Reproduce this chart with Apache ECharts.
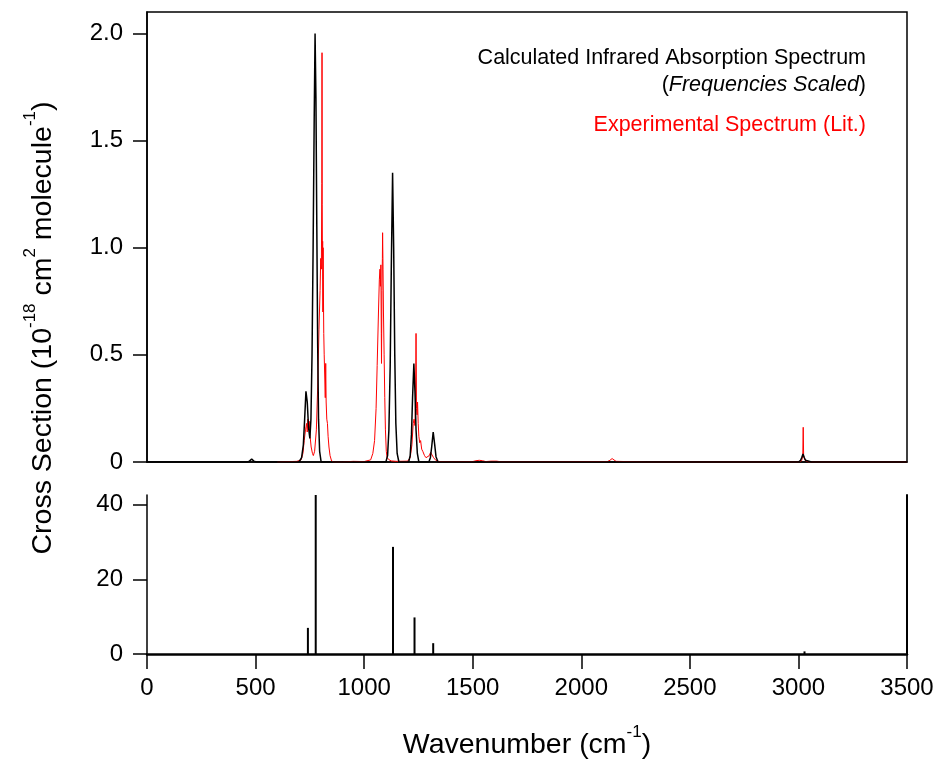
<!DOCTYPE html>
<html>
<head>
<meta charset="utf-8">
<script src="https://cdn.jsdelivr.net/npm/echarts@6/dist/echarts.min.js"></script>
<style>
  html, body { margin: 0; padding: 0; background: #fff; }
  #chart { width: 943px; height: 761px; }
</style>
</head>
<body>
<div id="chart"></div>
<script>
// calculated spectrum (broadened), [wavenumber, cross section]
const calcSpectrum = [
  [0, 0], [460, 0], [472, 0.004], [482, 0.014], [492, 0.004], [505, 0],
  [700, 0], [712, 0.02], [720, 0.08], [726, 0.2], [732, 0.33], [738, 0.28],
  [744, 0.16], [750, 0.11], [755, 0.2], [760, 0.5], [765, 1.0], [770, 1.6],
  [774, 2.0], [778, 1.7], [782, 1.1], [786, 0.55], [790, 0.2], [795, 0.05],
  [802, 0], [1100, 0], [1108, 0.03], [1114, 0.15], [1120, 0.45], [1125, 0.9],
  [1131, 1.35], [1136, 1.0], [1141, 0.5], [1146, 0.18], [1152, 0.04], [1160, 0],
  [1205, 0], [1212, 0.03], [1218, 0.13], [1223, 0.3], [1229, 0.46], [1234, 0.33],
  [1239, 0.15], [1245, 0.04], [1252, 0], [1298, 0], [1305, 0.02], [1311, 0.07],
  [1318, 0.14], [1325, 0.08], [1331, 0.025], [1340, 0], [3000, 0], [3010, 0.008],
  [3015, 0.02], [3021, 0.037], [3027, 0.02], [3033, 0.008], [3042, 0], [3060, 0],
  [3200, 0], [3350, 0], [3500, 0]
];

// experimental spectrum (literature)
const expSpectrum = [
  [600, 0], [690, 0.003], [710, 0.01], [718, 0.04], [724, 0.1], [730, 0.15],
  [735, 0.18], [738, 0.14], [741, 0.2], [744, 0.16], [747, 0.19], [751, 0.12],
  [756, 0.07], [762, 0.04], [766, 0.03], [772, 0.05], [780, 0.15], [786, 0.35],
  [792, 0.62], [797, 0.8], [800, 0.95], [803, 0.9], [805, 1.3], [806, 1.91],
  [807, 1.2], [808, 0.95], [809, 1.03], [810, 0.7], [811, 1.0], [812, 0.85],
  [814, 0.6], [816, 0.5], [818, 0.42], [821, 0.3], [823, 0.46], [825, 0.28],
  [828, 0.2], [831, 0.18], [834, 0.12], [838, 0.07], [843, 0.03], [850, 0.005],
  [860, 0], [900, 0], [950, 0.003], [1000, 0.002], [1030, 0.01], [1040, 0.04],
  [1048, 0.1], [1055, 0.25], [1060, 0.45], [1066, 0.7], [1070, 0.85], [1073, 0.9],
  [1075, 0.82], [1077, 0.92], [1079, 0.6], [1080, 0.46], [1082, 0.8], [1084, 0.95],
  [1085, 1.07], [1087, 0.9], [1089, 0.7], [1092, 0.5], [1095, 0.3], [1098, 0.15],
  [1102, 0.05], [1106, 0.02], [1115, 0.01], [1125, 0.005], [1150, 0.003], [1200, 0.004],
  [1212, 0.02], [1220, 0.08], [1226, 0.18], [1230, 0.2], [1234, 0.17], [1237, 0.3],
  [1239, 0.6], [1241, 0.25], [1244, 0.22], [1246, 0.28], [1249, 0.18], [1252, 0.12],
  [1256, 0.09], [1260, 0.1], [1265, 0.06], [1270, 0.05], [1278, 0.03], [1285, 0.02],
  [1292, 0.02], [1300, 0.03], [1306, 0.045], [1310, 0.05], [1314, 0.04], [1320, 0.02],
  [1330, 0.008], [1345, 0.002], [1400, 0.001], [1500, 0.002], [1515, 0.006], [1530, 0.008],
  [1545, 0.006], [1560, 0.002], [1585, 0.004], [1610, 0.004], [1630, 0.001], [1800, 0.001],
  [2120, 0.002], [2132, 0.008], [2142, 0.016], [2150, 0.012], [2160, 0.003], [2300, 0],
  [3000, 0], [3015, 0.006], [3020, 0.03], [3022, 0.162], [3024, 0.03], [3030, 0.008],
  [3045, 0], [3060, 0], [3200, 0], [3350, 0], [3500, 0]
];

// stick intensities (km/mol)
const sticks = [
  [741, 7.0], [777, 42.6], [1133, 28.7], [1232, 9.8], [1318, 2.9], [3028, 0.7]
];

const topTicks = [0, 0.5, 1.0, 1.5, 2.0];
const bottomTicks = [0, 20, 40];

const FONT = 'Liberation Sans, Arial, sans-serif';
const chart = echarts.init(document.getElementById('chart'));

const axisLine = { show: true, lineStyle: { color: '#000', width: 1.5 } };

chart.setOption({
  backgroundColor: '#fff',
  animation: false,
  grid: [
    { left: 147, right: 36, top: 12, height: 450, show: true, borderColor: '#000', borderWidth: 1.5 },
    { left: 147, right: 36, top: 495, height: 161 }
  ],
  xAxis: [
    {
      gridIndex: 0, type: 'value', min: 0, max: 3500, interval: 500,
      axisLine: axisLine, axisTick: { show: false }, axisLabel: { show: false }, splitLine: { show: false }
    },
    {
      gridIndex: 1, type: 'value', min: 0, max: 3500, interval: 500,
      axisLine: { show: true, lineStyle: { color: '#000', width: 2.5 } },
      axisTick: { show: true, length: 15, lineStyle: { color: '#000', width: 1.5 } },
      axisLabel: { color: '#000', fontSize: 24, fontFamily: FONT, margin: 22, formatter: v => String(v) },
      splitLine: { show: false },
      name: '{a|Wavenumber (cm}{s|-1}{a|)}',
      nameLocation: 'middle', nameGap: 70,
      nameTextStyle: {
        rich: {
          a: { fontSize: 28.5, fontFamily: FONT, color: '#000', lineHeight: 36, verticalAlign: 'bottom' },
          s: { fontSize: 17, fontFamily: FONT, color: '#000', lineHeight: 17, verticalAlign: 'top' }
        }
      }
    }
  ],
  yAxis: [
    {
      gridIndex: 0, type: 'value', min: 0, max: 2.1,
      axisLine: axisLine,
      axisTick: { show: true, length: 14, customValues: topTicks, lineStyle: { color: '#000', width: 1.5 } },
      axisLabel: {
        color: '#000', fontSize: 24, fontFamily: FONT, margin: 24, customValues: topTicks,
        formatter: v => (v === 0 ? '0' : v.toFixed(1))
      },
      splitLine: { show: false }
    },
    {
      gridIndex: 1, type: 'value', min: 0, max: 42.6,
      axisLine: axisLine,
      axisTick: { show: true, length: 14, customValues: bottomTicks, lineStyle: { color: '#000', width: 1.5 } },
      axisLabel: { color: '#000', fontSize: 24, fontFamily: FONT, margin: 24, customValues: bottomTicks },
      splitLine: { show: false }
    },
    {
      gridIndex: 1, type: 'value', min: 0, max: 42.6, position: 'right',
      axisLine: { show: true, lineStyle: { color: '#000', width: 2 } },
      axisTick: { show: false }, axisLabel: { show: false }, splitLine: { show: false }
    }
  ],
  graphic: [
    {
      type: 'text', x: 40, y: 328, rotation: Math.PI / 2,
      style: {
        text: '{a|Cross Section (10}{s|-18}{a| cm}{s|2}{a| molecule}{s|-1}{a|)}',
        align: 'center', verticalAlign: 'middle',
        rich: {
          a: { fontSize: 28.5, fontFamily: FONT, fill: '#000', lineHeight: 36, verticalAlign: 'bottom' },
          s: { fontSize: 17, fontFamily: FONT, fill: '#000', lineHeight: 17, verticalAlign: 'top' }
        }
      }
    },
    {
      type: 'text', x: 866, y: 58,
      style: { text: 'Calculated Infrared Absorption Spectrum', align: 'right', verticalAlign: 'middle', fontSize: 21.5, fontFamily: FONT, fill: '#000' }
    },
    {
      type: 'text', x: 866, y: 85,
      style: {
        text: '({i|Frequencies Scaled})', align: 'right', verticalAlign: 'middle',
        fontSize: 21.5, fontFamily: FONT, fill: '#000',
        rich: { i: { fontSize: 21.5, fontFamily: FONT, fontStyle: 'italic', fill: '#000' } }
      }
    },
    {
      type: 'text', x: 866, y: 125,
      style: { text: 'Experimental Spectrum (Lit.)', align: 'right', verticalAlign: 'middle', fontSize: 21.5, fontFamily: FONT, fill: '#ff0000' }
    }
  ],
  series: [
    {
      name: 'Experimental', type: 'line', xAxisIndex: 0, yAxisIndex: 0,
      data: expSpectrum, showSymbol: false, symbol: 'none',
      lineStyle: { color: '#ff0000', width: 1 }, z: 2
    },
    {
      name: 'Calculated', type: 'line', xAxisIndex: 0, yAxisIndex: 0,
      data: calcSpectrum, showSymbol: false, symbol: 'none',
      lineStyle: { color: '#000', width: 1.5 }, z: 3
    },
    {
      name: 'Sticks', type: 'bar', xAxisIndex: 1, yAxisIndex: 1,
      data: sticks, barWidth: 2, itemStyle: { color: '#000' }
    }
  ]
});
</script>
</body>
</html>
